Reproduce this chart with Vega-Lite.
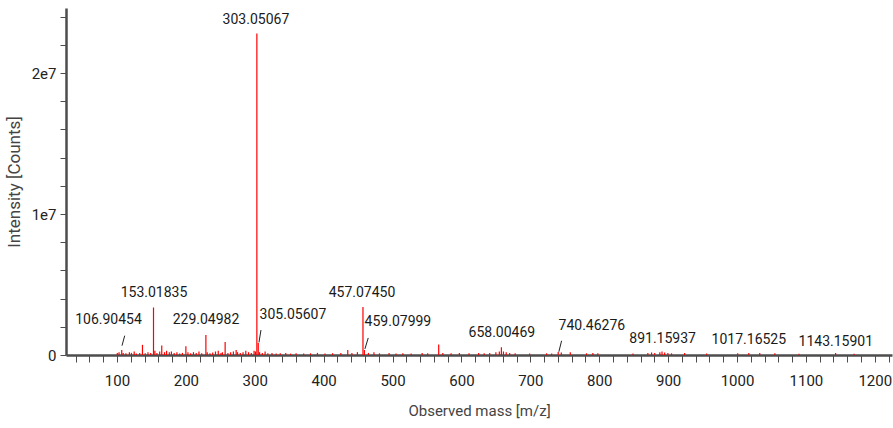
{
  "$schema": "https://vega.github.io/schema/vega-lite/v6.json",
  "width": 826,
  "height": 347,
  "autosize": {"type": "none"},
  "padding": {"left": 66, "top": 8, "right": 1, "bottom": 73},
  "background": "white",
  "config": {
    "view": {"stroke": null},
    "font": "Roboto",
    "axis": {"labelFont": "Roboto", "titleFont": "Roboto", "grid": false}
  },
  "datasets": {
    "peaks": [
      {"mz": 100.5, "intensity": 150000}, {"mz": 103, "intensity": 200000}, {"mz": 106.90454, "intensity": 350000},
      {"mz": 109, "intensity": 150000}, {"mz": 113, "intensity": 120000}, {"mz": 118, "intensity": 200000},
      {"mz": 121, "intensity": 150000}, {"mz": 125, "intensity": 250000}, {"mz": 128, "intensity": 100000},
      {"mz": 133, "intensity": 150000}, {"mz": 137, "intensity": 720000}, {"mz": 141, "intensity": 120000},
      {"mz": 145, "intensity": 200000}, {"mz": 149, "intensity": 150000}, {"mz": 153.01835, "intensity": 3370000},
      {"mz": 155, "intensity": 300000}, {"mz": 158, "intensity": 150000}, {"mz": 162, "intensity": 250000},
      {"mz": 165, "intensity": 680000}, {"mz": 169, "intensity": 200000}, {"mz": 172, "intensity": 300000},
      {"mz": 176, "intensity": 200000}, {"mz": 179, "intensity": 250000}, {"mz": 183, "intensity": 150000},
      {"mz": 187, "intensity": 200000}, {"mz": 191, "intensity": 100000}, {"mz": 195, "intensity": 150000},
      {"mz": 200, "intensity": 620000}, {"mz": 203, "intensity": 200000}, {"mz": 207, "intensity": 120000},
      {"mz": 211, "intensity": 200000}, {"mz": 215, "intensity": 150000}, {"mz": 219, "intensity": 250000},
      {"mz": 223, "intensity": 120000}, {"mz": 229.04982, "intensity": 1420000}, {"mz": 231, "intensity": 200000},
      {"mz": 235, "intensity": 120000}, {"mz": 239, "intensity": 180000}, {"mz": 243, "intensity": 250000},
      {"mz": 247, "intensity": 300000}, {"mz": 251, "intensity": 150000}, {"mz": 253, "intensity": 200000},
      {"mz": 257, "intensity": 920000}, {"mz": 261, "intensity": 150000}, {"mz": 265, "intensity": 200000},
      {"mz": 269, "intensity": 250000}, {"mz": 273, "intensity": 350000}, {"mz": 275, "intensity": 200000},
      {"mz": 279, "intensity": 150000}, {"mz": 283, "intensity": 200000}, {"mz": 287, "intensity": 300000},
      {"mz": 291, "intensity": 200000}, {"mz": 295, "intensity": 150000}, {"mz": 299, "intensity": 300000},
      {"mz": 301, "intensity": 250000}, {"mz": 303.05067, "intensity": 22800000}, {"mz": 305.05607, "intensity": 850000},
      {"mz": 307, "intensity": 200000}, {"mz": 311, "intensity": 150000}, {"mz": 315, "intensity": 250000},
      {"mz": 319, "intensity": 120000}, {"mz": 325, "intensity": 150000}, {"mz": 331, "intensity": 100000},
      {"mz": 337, "intensity": 120000}, {"mz": 345, "intensity": 150000}, {"mz": 352, "intensity": 100000},
      {"mz": 360, "intensity": 120000}, {"mz": 371, "intensity": 100000}, {"mz": 381, "intensity": 120000},
      {"mz": 391, "intensity": 150000}, {"mz": 402, "intensity": 100000}, {"mz": 413, "intensity": 120000},
      {"mz": 425, "intensity": 150000}, {"mz": 435, "intensity": 350000}, {"mz": 441, "intensity": 150000},
      {"mz": 449, "intensity": 200000}, {"mz": 457.0745, "intensity": 3400000}, {"mz": 459.07999, "intensity": 350000},
      {"mz": 465, "intensity": 150000}, {"mz": 473, "intensity": 200000}, {"mz": 481, "intensity": 120000},
      {"mz": 495, "intensity": 150000}, {"mz": 505, "intensity": 100000}, {"mz": 515, "intensity": 120000},
      {"mz": 527, "intensity": 100000}, {"mz": 543, "intensity": 150000}, {"mz": 551, "intensity": 120000},
      {"mz": 567, "intensity": 750000}, {"mz": 573, "intensity": 150000}, {"mz": 585, "intensity": 120000},
      {"mz": 597, "intensity": 150000}, {"mz": 611, "intensity": 120000}, {"mz": 625, "intensity": 150000},
      {"mz": 633, "intensity": 120000}, {"mz": 641, "intensity": 150000}, {"mz": 650, "intensity": 200000},
      {"mz": 655, "intensity": 250000}, {"mz": 658.00469, "intensity": 550000}, {"mz": 661, "intensity": 250000},
      {"mz": 665, "intensity": 200000}, {"mz": 670, "intensity": 150000}, {"mz": 678, "intensity": 120000},
      {"mz": 699, "intensity": 100000}, {"mz": 723.6, "intensity": 120000}, {"mz": 731, "intensity": 100000},
      {"mz": 740.46276, "intensity": 220000}, {"mz": 745, "intensity": 180000}, {"mz": 758, "intensity": 200000},
      {"mz": 781.6, "intensity": 120000}, {"mz": 790.8, "intensity": 150000}, {"mz": 798, "intensity": 120000},
      {"mz": 849, "intensity": 100000}, {"mz": 870.6, "intensity": 150000}, {"mz": 876, "intensity": 180000},
      {"mz": 880.6, "intensity": 150000}, {"mz": 888, "intensity": 200000}, {"mz": 891.15937, "intensity": 250000},
      {"mz": 895, "intensity": 180000}, {"mz": 899.7, "intensity": 150000}, {"mz": 905, "intensity": 120000},
      {"mz": 924, "intensity": 150000}, {"mz": 956, "intensity": 100000}, {"mz": 1001, "intensity": 120000},
      {"mz": 1017.16525, "intensity": 150000}, {"mz": 1033, "intensity": 150000}, {"mz": 1055, "intensity": 120000},
      {"mz": 1090, "intensity": 80000}, {"mz": 1143.15901, "intensity": 150000}, {"mz": 1170, "intensity": 80000}
    ],
    "labels": [
      {"label": "303.05067", "mz": 301.7, "intensity": 23780000},
      {"label": "153.01835", "mz": 153.7, "intensity": 4370000},
      {"label": "457.07450", "mz": 455.6, "intensity": 4370000},
      {"label": "106.90454", "mz": 87.7, "intensity": 2480000},
      {"label": "229.04982", "mz": 229.2, "intensity": 2500000},
      {"label": "305.05607", "mz": 355.4, "intensity": 2860000},
      {"label": "459.07999", "mz": 507.8, "intensity": 2310000},
      {"label": "658.00469", "mz": 658.7, "intensity": 1530000},
      {"label": "740.46276", "mz": 789.3, "intensity": 2080000},
      {"label": "891.15937", "mz": 892.0, "intensity": 1160000},
      {"label": "1017.16525", "mz": 1017.2, "intensity": 1090000},
      {"label": "1143.15901", "mz": 1143.4, "intensity": 940000}
    ],
    "slashes": [
      {"mz": 107.3, "mz2": 111.2, "intensity": 660000, "intensity2": 1370000},
      {"mz": 306.1, "mz2": 309.0, "intensity": 890000, "intensity2": 1770000},
      {"mz": 459.9, "mz2": 464.7, "intensity": 430000, "intensity2": 1210000},
      {"mz": 741.4, "mz2": 745.4, "intensity": 230000, "intensity2": 1010000}
    ]
  },
  "encoding": {
    "x": {
      "field": "mz", "type": "quantitative",
      "scale": {"domain": [26, 1225], "nice": false, "zero": false},
      "axis": {
        "title": "Observed mass [m/z]",
        "values": [40,60,80,100,120,140,160,180,200,220,240,260,280,300,320,340,360,380,400,420,440,460,480,500,520,540,560,580,600,620,640,660,680,700,720,740,760,780,800,820,840,860,880,900,920,940,960,980,1000,1020,1040,1060,1080,1100,1120,1140,1160,1180,1200,1220],
        "labelExpr": "datum.value % 100 == 0 ? format(datum.value, 'd') : ''",
        "labelOverlap": false,
        "labelFlush": false,
        "domainColor": "#4d4d4d", "domainWidth": 2.5,
        "tickColor": "#4d4d4d", "tickWidth": 1, "tickSize": 7,
        "labelColor": "#222222", "labelFontSize": 15, "labelPadding": 11,
        "titleColor": "#444444", "titleFontSize": 15, "titleFontWeight": "normal", "titlePadding": 15
      }
    },
    "y": {
      "field": "intensity", "type": "quantitative",
      "scale": {"domain": [0, 24610000], "nice": false},
      "axis": {
        "title": "Intensity [Counts]",
        "values": [0,2000000,4000000,6000000,8000000,10000000,12000000,14000000,16000000,18000000,20000000,22000000,24000000],
        "labelExpr": "datum.value == 0 ? '0' : (datum.value == 10000000 ? '1e7' : (datum.value == 20000000 ? '2e7' : ''))",
        "labelOverlap": false,
        "labelFlush": false,
        "domainColor": "#4d4d4d", "domainWidth": 2.5,
        "tickColor": "#4d4d4d", "tickWidth": 1, "tickSize": 6,
        "labelColor": "#222222", "labelFontSize": 15, "labelPadding": 4,
        "titleColor": "#444444", "titleFontSize": 17, "titleFontWeight": "normal", "titlePadding": 8
      }
    }
  },
  "layer": [
    {
      "data": {"name": "peaks"},
      "mark": {"type": "rule", "color": "#ff0000", "strokeWidth": 1.2},
      "encoding": {
        "y2": {"datum": 0}
      }
    },
    {
      "data": {"name": "slashes"},
      "mark": {"type": "rule", "color": "#222222", "strokeWidth": 1},
      "encoding": {
        "x2": {"field": "mz2"},
        "y2": {"field": "intensity2"}
      }
    },
    {
      "data": {"name": "labels"},
      "mark": {"type": "text", "align": "center", "baseline": "middle", "fontSize": 14, "color": "#1a1a1a", "font": "Roboto"},
      "encoding": {
        "text": {"field": "label"}
      }
    }
  ]
}
